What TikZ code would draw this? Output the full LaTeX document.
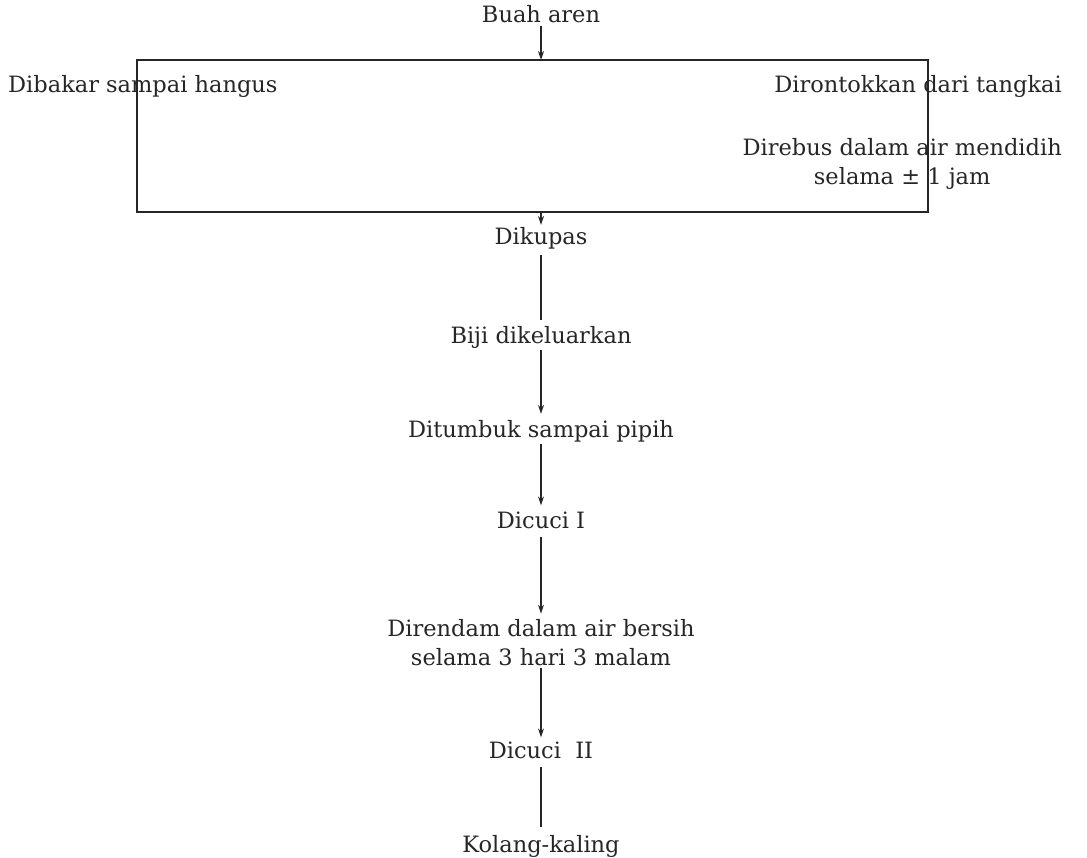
\documentclass[tikz,border=0pt]{standalone}
\usepackage{fontspec}
\setmainfont{DejaVu Serif}
\usetikzlibrary{arrows.meta}
\begin{document}
\begin{tikzpicture}[x=1pt,y=-1pt,
  lbl/.style={inner sep=0pt,font=\fontsize{22.5}{29}\selectfont,align=center,text=black!85},
  ln/.style={draw=black!85,line width=1.8pt},
  arr/.style={ln,-{Stealth[length=9pt,width=6pt]}}]
\useasboundingbox (0,0) rectangle (1087,858);
% box
\coordinate (tl) at (137,60);
\coordinate (br) at (928,212);
\coordinate (boxtop) at (541,60);
\coordinate (boxbot) at (541,212);
\draw[ln] (tl) rectangle (br);
% texts
\node[lbl] (buah) at (541,14) {Buah aren};
\node[lbl,anchor=west] (bakar) at (8,86) {Dibakar sampai hangus};
\node[lbl,anchor=east] (ronto) at (1062,86) {Dirontokkan dari tangkai};
\node[lbl,anchor=east] (rebus) at (1062,164) {Direbus dalam air mendidih\\selama ± 1 jam};
\node[lbl] (kupas) at (541,238) {Dikupas};
\node[lbl] (biji) at (541,337) {Biji dikeluarkan};
\node[lbl] (tumbuk) at (541,431) {Ditumbuk sampai pipih};
\node[lbl] (cuci1) at (541,520) {Dicuci I};
\node[lbl] (rendam) at (541,643) {Direndam dalam air bersih\\selama 3 hari 3 malam};
\node[lbl] (cuci2) at (541,750) {Dicuci\ \ II};
\node[lbl] (kolang) at (541,846) {Kolang-kaling};
% connectors
\draw[arr] ([yshift=-3pt]buah.south) -- (boxtop);
\draw[arr] (boxbot) -- ([yshift=2pt]kupas.north);
\draw[ln] ([yshift=-6pt]kupas.south) -- ([yshift=6pt]biji.north);
\draw[arr] ([yshift=-2pt]biji.south) -- ([yshift=6pt]tumbuk.north);
\draw[arr] ([yshift=-2pt]tumbuk.south) -- ([yshift=6pt]cuci1.north);
\draw[arr] ([yshift=-8pt]cuci1.south) -- ([yshift=6pt]rendam.north);
\draw[arr] ([yshift=-2pt]rendam.south) -- ([yshift=4pt]cuci2.north);
\draw[ln] ([yshift=-8pt]cuci2.south) -- ([yshift=8pt]kolang.north);
\end{tikzpicture}
\end{document}
